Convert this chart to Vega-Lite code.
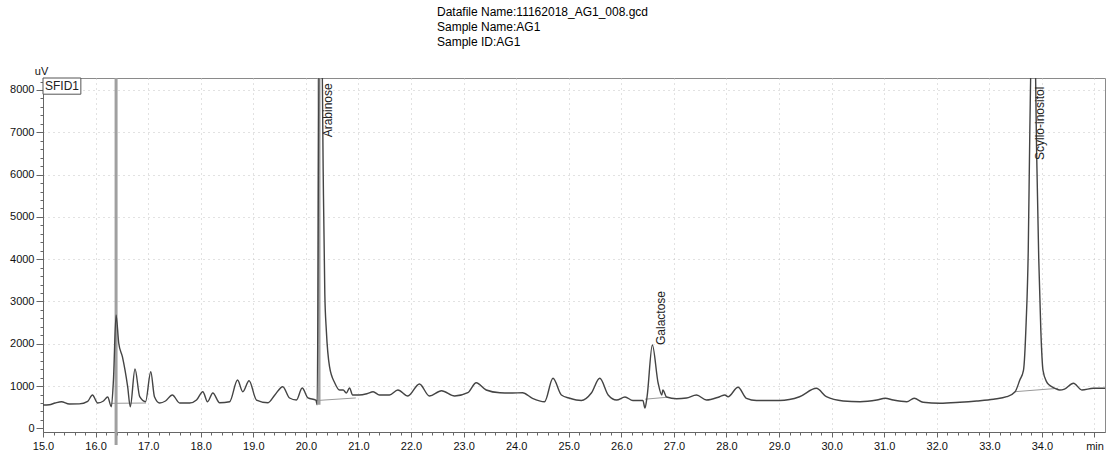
{
  "$schema": "https://vega.github.io/schema/vega-lite/v6.json",
  "width": 1062,
  "height": 354,
  "autosize": {"type": "none"},
  "padding": {"left": 43, "top": 78, "right": 4, "bottom": 27},
  "background": "white",
  "config": {
    "view": {"stroke": "#8a8a8a", "strokeWidth": 1},
    "font": "Liberation Sans"
  },
  "title": {
    "text": ["Datafile Name:11162018_AG1_008.gcd", "Sample Name:AG1", "Sample ID:AG1"],
    "anchor": "start",
    "frame": "group",
    "dx": 394,
    "offset": 16,
    "fontSize": 12,
    "fontWeight": "normal",
    "font": "Liberation Sans",
    "lineHeight": 15,
    "color": "#000000"
  },
  "datasets": {
    "trace": [
      {"t": 15.00, "v": 553}, {"t": 15.12, "v": 560}, {"t": 15.23, "v": 600}, {"t": 15.35, "v": 631},
      {"t": 15.50, "v": 577}, {"t": 15.69, "v": 580}, {"t": 15.85, "v": 640}, {"t": 15.94, "v": 790},
      {"t": 16.04, "v": 600}, {"t": 16.15, "v": 648}, {"t": 16.23, "v": 742}, {"t": 16.30, "v": 513},
      {"t": 16.34, "v": 1144}, {"t": 16.39, "v": 2681}, {"t": 16.44, "v": 2019}, {"t": 16.51, "v": 1695},
      {"t": 16.61, "v": 986}, {"t": 16.66, "v": 513}, {"t": 16.75, "v": 1404}, {"t": 16.84, "v": 749},
      {"t": 16.95, "v": 631}, {"t": 17.05, "v": 1340}, {"t": 17.12, "v": 749}, {"t": 17.22, "v": 600},
      {"t": 17.33, "v": 648}, {"t": 17.46, "v": 790}, {"t": 17.60, "v": 600}, {"t": 17.79, "v": 600},
      {"t": 17.92, "v": 671}, {"t": 18.04, "v": 868}, {"t": 18.13, "v": 631}, {"t": 18.23, "v": 837},
      {"t": 18.36, "v": 608}, {"t": 18.55, "v": 631}, {"t": 18.70, "v": 1144}, {"t": 18.80, "v": 868},
      {"t": 18.92, "v": 1128}, {"t": 19.06, "v": 671}, {"t": 19.28, "v": 608}, {"t": 19.41, "v": 790},
      {"t": 19.56, "v": 986}, {"t": 19.69, "v": 719}, {"t": 19.82, "v": 671}, {"t": 19.93, "v": 955},
      {"t": 20.04, "v": 719}, {"t": 20.19, "v": 671}, {"t": 20.215, "v": 560}, {"t": 20.255, "v": 9500},
      {"t": 20.30, "v": 9500}, {"t": 20.33, "v": 6000}, {"t": 20.36, "v": 3200}, {"t": 20.39, "v": 2300},
      {"t": 20.45, "v": 1459}, {"t": 20.55, "v": 1073}, {"t": 20.64, "v": 908}, {"t": 20.71, "v": 908},
      {"t": 20.77, "v": 837}, {"t": 20.83, "v": 955}, {"t": 20.89, "v": 790}, {"t": 21.01, "v": 790},
      {"t": 21.16, "v": 820}, {"t": 21.28, "v": 868}, {"t": 21.40, "v": 790}, {"t": 21.59, "v": 790},
      {"t": 21.75, "v": 908}, {"t": 21.94, "v": 766}, {"t": 22.16, "v": 1050}, {"t": 22.35, "v": 766},
      {"t": 22.58, "v": 891}, {"t": 22.83, "v": 766}, {"t": 23.08, "v": 844}, {"t": 23.24, "v": 1080},
      {"t": 23.43, "v": 908}, {"t": 23.69, "v": 844}, {"t": 23.93, "v": 837}, {"t": 24.12, "v": 844},
      {"t": 24.31, "v": 712}, {"t": 24.54, "v": 631}, {"t": 24.70, "v": 1184}, {"t": 24.86, "v": 790},
      {"t": 25.02, "v": 712}, {"t": 25.24, "v": 660}, {"t": 25.43, "v": 837}, {"t": 25.59, "v": 1184},
      {"t": 25.75, "v": 790}, {"t": 25.91, "v": 671}, {"t": 26.07, "v": 742}, {"t": 26.22, "v": 660},
      {"t": 26.41, "v": 660}, {"t": 26.45, "v": 482}, {"t": 26.49, "v": 750}, {"t": 26.59, "v": 1972},
      {"t": 26.70, "v": 1073}, {"t": 26.77, "v": 790}, {"t": 26.79, "v": 908}, {"t": 26.86, "v": 742},
      {"t": 27.05, "v": 700}, {"t": 27.24, "v": 719}, {"t": 27.43, "v": 790}, {"t": 27.62, "v": 671},
      {"t": 27.87, "v": 749}, {"t": 27.97, "v": 790}, {"t": 28.03, "v": 749}, {"t": 28.22, "v": 972},
      {"t": 28.38, "v": 712}, {"t": 28.57, "v": 660}, {"t": 29.01, "v": 660}, {"t": 29.39, "v": 749},
      {"t": 29.71, "v": 948}, {"t": 29.90, "v": 749}, {"t": 30.22, "v": 648}, {"t": 30.54, "v": 631},
      {"t": 30.86, "v": 671}, {"t": 31.02, "v": 712}, {"t": 31.17, "v": 671}, {"t": 31.43, "v": 631},
      {"t": 31.57, "v": 712}, {"t": 31.74, "v": 617}, {"t": 32.06, "v": 593}, {"t": 32.44, "v": 617},
      {"t": 32.76, "v": 648}, {"t": 33.08, "v": 690}, {"t": 33.33, "v": 749}, {"t": 33.49, "v": 868},
      {"t": 33.58, "v": 1144}, {"t": 33.65, "v": 1380}, {"t": 33.70, "v": 2500}, {"t": 33.74, "v": 4200},
      {"t": 33.77, "v": 7000}, {"t": 33.81, "v": 9500}, {"t": 33.86, "v": 9500}, {"t": 33.90, "v": 6500},
      {"t": 33.94, "v": 4000}, {"t": 33.98, "v": 2300}, {"t": 34.02, "v": 1380}, {"t": 34.09, "v": 1100},
      {"t": 34.14, "v": 1026}, {"t": 34.25, "v": 948}, {"t": 34.34, "v": 908}, {"t": 34.43, "v": 930},
      {"t": 34.60, "v": 1066}, {"t": 34.76, "v": 908}, {"t": 34.98, "v": 948}, {"t": 35.20, "v": 948}
    ],
    "baselines": [
      {"seg": "a", "t": 16.30, "v": 593}, {"seg": "a", "t": 16.96, "v": 600},
      {"seg": "b", "t": 20.22, "v": 660}, {"seg": "b", "t": 20.95, "v": 720},
      {"seg": "c", "t": 26.45, "v": 690}, {"seg": "c", "t": 26.86, "v": 735},
      {"seg": "d", "t": 33.49, "v": 868}, {"seg": "d", "t": 34.31, "v": 948}
    ],
    "markers": [
      {"t": 16.39, "v": 8283, "v2": -392},
      {"t": 20.25, "v": 8283, "v2": 560}
    ],
    "labels": [
      {"t": 20.43, "v": 6880, "label": "Arabinose"},
      {"t": 26.75, "v": 1972, "label": "Galactose"},
      {"t": 33.97, "v": 6345, "label": "Scyllo-inositol"}
    ],
    "box": [
      {"t": 15.0, "t2": 15.72, "v": 7900, "v2": 8283, "label": "SFID1"}
    ]
  },
  "encoding": {
    "x": {
      "field": "t",
      "type": "quantitative",
      "scale": {"domain": [15, 35.2], "nice": false, "zero": false},
      "axis": {
        "title": null,
        "values": [15, 15.2, 15.4, 15.6, 15.8, 16, 16.2, 16.4, 16.6, 16.8, 17, 17.2, 17.4, 17.6, 17.8, 18, 18.2, 18.4, 18.6, 18.8, 19, 19.2, 19.4, 19.6, 19.8, 20, 20.2, 20.4, 20.6, 20.8, 21, 21.2, 21.4, 21.6, 21.8, 22, 22.2, 22.4, 22.6, 22.8, 23, 23.2, 23.4, 23.6, 23.8, 24, 24.2, 24.4, 24.6, 24.8, 25, 25.2, 25.4, 25.6, 25.8, 26, 26.2, 26.4, 26.6, 26.8, 27, 27.2, 27.4, 27.6, 27.8, 28, 28.2, 28.4, 28.6, 28.8, 29, 29.2, 29.4, 29.6, 29.8, 30, 30.2, 30.4, 30.6, 30.8, 31, 31.2, 31.4, 31.6, 31.8, 32, 32.2, 32.4, 32.6, 32.8, 33, 33.2, 33.4, 33.6, 33.8, 34, 34.2, 34.4, 34.6, 34.8, 35],
        "labelExpr": "abs(datum.value - round(datum.value)) < 0.01 ? (round(datum.value) == 35 ? 'min' : format(datum.value, '.1f')) : ''",
        "labelOverlap": false,
        "labelFlush": false,
        "labelFontSize": 11,
        "labelColor": "#111111",
        "labelPadding": 3,
        "domainColor": "#666666",
        "tickColor": "#666666",
        "tickSize": {"condition": {"test": "abs(datum.value - round(datum.value)) < 0.01", "value": 5}, "value": 3},
        "grid": true,
        "gridColor": "#c4c4c4",
        "gridDash": [1, 4],
        "gridOpacity": {"condition": {"test": "abs(datum.value - round(datum.value)) < 0.01", "value": 1}, "value": 0}
      }
    },
    "y": {
      "field": "v",
      "type": "quantitative",
      "scale": {"domain": [-85, 8283], "nice": false, "zero": false},
      "axis": {
        "title": "uV",
        "titleAngle": 0,
        "titleX": -2,
        "titleY": -2,
        "titleAlign": "center",
        "titleBaseline": "bottom",
        "titleFontSize": 11,
        "titleFontWeight": "normal",
        "titleColor": "#111111",
        "values": [0, 200, 400, 600, 800, 1000, 1200, 1400, 1600, 1800, 2000, 2200, 2400, 2600, 2800, 3000, 3200, 3400, 3600, 3800, 4000, 4200, 4400, 4600, 4800, 5000, 5200, 5400, 5600, 5800, 6000, 6200, 6400, 6600, 6800, 7000, 7200, 7400, 7600, 7800, 8000, 8200],
        "labelExpr": "datum.value % 1000 === 0 ? format(datum.value, 'd') : ''",
        "labelOverlap": false,
        "labelFlush": false,
        "labelFontSize": 11,
        "labelColor": "#111111",
        "labelPadding": 2,
        "domainColor": "#666666",
        "tickColor": "#666666",
        "tickSize": {"condition": {"test": "datum.value % 1000 === 0", "value": 7}, "value": 3},
        "grid": true,
        "gridColor": "#c4c4c4",
        "gridDash": [1, 4],
        "gridOpacity": {"condition": {"test": "datum.value % 1000 === 0 && datum.value > 0", "value": 1}, "value": 0}
      }
    }
  },
  "layer": [
    {
      "data": {"name": "markers"},
      "mark": {"type": "rule", "color": "#a0a0a0", "strokeWidth": 3},
      "encoding": {"y2": {"field": "v2"}}
    },
    {
      "data": {"name": "baselines"},
      "mark": {"type": "line", "color": "#9a9a9a", "strokeWidth": 1},
      "encoding": {"detail": {"field": "seg"}}
    },
    {
      "data": {"name": "trace"},
      "mark": {"type": "line", "color": "#444444", "strokeWidth": 1.4, "clip": true, "interpolate": "monotone"},
      "encoding": {}
    },
    {
      "data": {"name": "labels"},
      "mark": {"type": "text", "angle": 270, "align": "left", "baseline": "middle", "fontSize": 12, "color": "#222222", "font": "Liberation Sans"},
      "encoding": {"text": {"field": "label"}}
    },
    {
      "data": {"name": "box"},
      "mark": {"type": "rect", "fill": "white", "stroke": "#555555", "strokeWidth": 1},
      "encoding": {"x2": {"field": "t2"}, "y2": {"field": "v2"}}
    },
    {
      "data": {"name": "box"},
      "mark": {"type": "text", "align": "left", "baseline": "middle", "dx": 2, "fontSize": 12, "color": "#222222", "font": "Liberation Sans"},
      "encoding": {"text": {"field": "label"}, "y": {"datum": 8090}}
    }
  ]
}
